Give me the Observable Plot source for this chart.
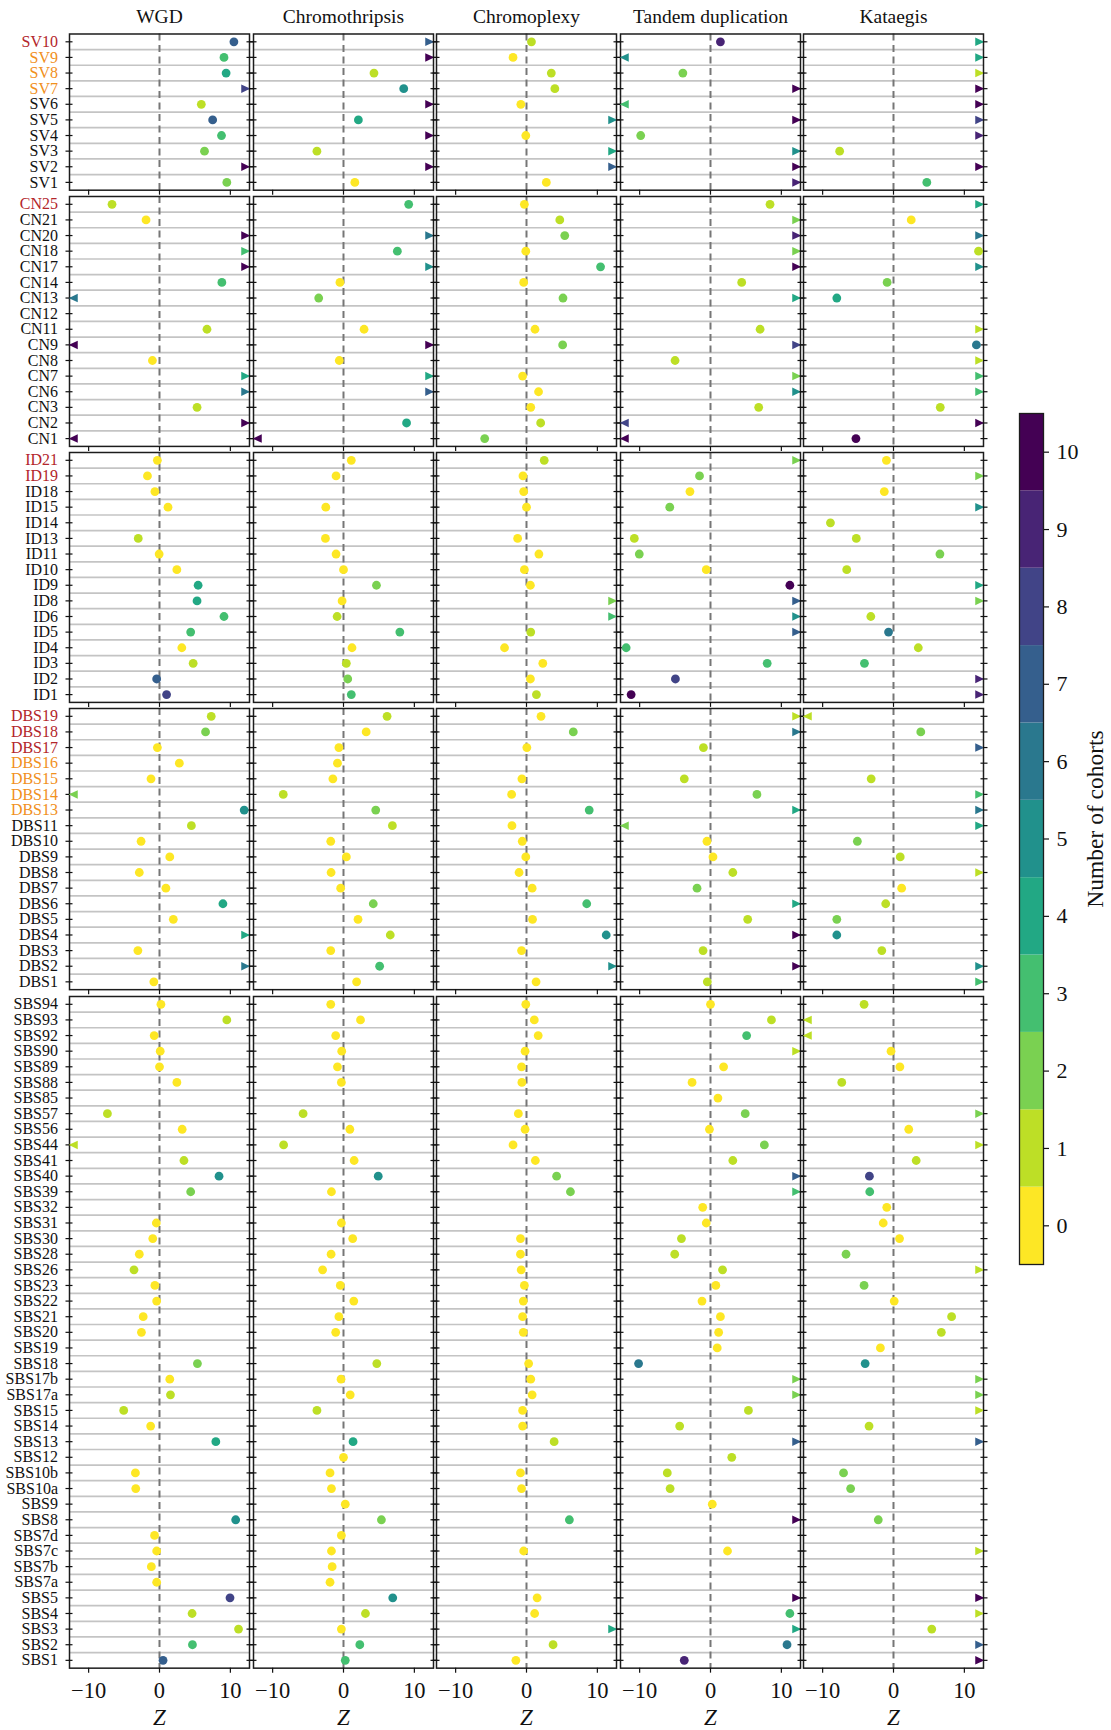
<!DOCTYPE html>
<html>
<head>
<meta charset="utf-8">
<script src="https://cdn.jsdelivr.net/npm/d3@7"></script>
<script src="https://cdn.jsdelivr.net/npm/@observablehq/plot@0.6"></script>
<style>
  html, body { margin: 0; padding: 0; background: #fff; }
  #chart { position: relative; width: 1111px; height: 1730px; background: #fff; overflow: hidden; }
  #chart > svg { position: absolute; }
</style>
</head>
<body>
<div id="chart"></div>
<script>
// ---- categories ----
const columns = ["WGD", "Chromothripsis", "Chromoplexy", "Tandem duplication", "Kataegis"];
const cohortLevels = [0, 1, 2, 3, 4, 5, 6, 7, 8, 9, 10];

// signatures highlighted in the row labels
const redSignatures = ["SV10", "CN25", "ID21", "ID19", "DBS19", "DBS18", "DBS17"];
const orangeSignatures = ["SV9", "SV8", "SV7", "DBS16", "DBS15", "DBS14", "DBS13"];

// ---- structural variant signatures ----
// Z values (one array per column); |Z| > 12.7 lies beyond the axis and is drawn as an edge arrow
const svSignatures = ["SV10", "SV9", "SV8", "SV7", "SV6", "SV5", "SV4", "SV3", "SV2", "SV1"];
const svZ = [
  [10.5, 9.1, 9.4, 13, 5.9, 7.5, 8.75, 6.35, 13, 9.5],
  [13, 13, 4.3, 8.5, 13, 2.1, 13, -3.75, 13, 1.6],
  [0.7, -1.9, 3.5, 4.0, -0.8, 13, -0.1, 13, 13, 2.8],
  [1.4, -13, -3.9, 13, -13, 13, -9.85, 13, 13, 13],
  [13, 13, 13, 13, 13, 13, 13, -7.6, 13, 4.7]
];
const svCohorts = [
  [7, 3, 4, 8, 1, 7, 3, 2, 10, 2],
  [7, 10, 1, 5, 10, 4, 10, 1, 10, 0],
  [1, 0, 1, 1, 0, 5, 0, 4, 7, 0],
  [9, 5, 2, 10, 3, 10, 2, 5, 10, 9],
  [4, 4, 1, 10, 10, 8, 9, 1, 10, 3]
];

// ---- copy number signatures ----
const cnSignatures = ["CN25", "CN21", "CN20", "CN18", "CN17", "CN14", "CN13", "CN12", "CN11", "CN9", "CN8", "CN7", "CN6", "CN3", "CN2", "CN1"];
const cnZ = [
  [-6.7, -1.9, 13, 13, 13, 8.8, -13, null, 6.7, -13, -1.0, 13, 13, 5.3, 13, -13],
  [9.2, null, 13, 7.6, 13, -0.5, -3.5, null, 2.9, 13, -0.6, 13, 13, null, 8.9, -13],
  [-0.3, 4.7, 5.4, -0.1, 10.45, -0.4, 5.15, null, 1.2, 5.1, null, -0.55, 1.7, 0.6, 2.0, -5.9],
  [8.4, 13, 13, 13, 13, 4.4, 13, null, 7.0, 13, -5.0, 13, 13, 6.8, -13, -13],
  [13, 2.5, 13, 12.0, 13, -0.9, -8.0, null, 13, 11.7, 13, 13, 13, 6.6, 13, -5.3]
];
const cnCohorts = [
  [1, 0, 10, 3, 10, 3, 6, null, 1, 10, 0, 4, 6, 1, 10, 10],
  [3, null, 6, 3, 5, 0, 2, null, 0, 10, 0, 4, 7, null, 4, 10],
  [0, 1, 2, 0, 3, 0, 2, null, 0, 2, null, 0, 0, 0, 1, 2],
  [1, 2, 9, 2, 10, 1, 4, null, 1, 8, 1, 2, 5, 1, 8, 10],
  [4, 0, 6, 1, 5, 2, 4, null, 1, 6, 1, 3, 3, 1, 10, 10]
];

// ---- indel signatures ----
const idSignatures = ["ID21", "ID19", "ID18", "ID15", "ID14", "ID13", "ID11", "ID10", "ID9", "ID8", "ID6", "ID5", "ID4", "ID3", "ID2", "ID1"];
const idZ = [
  [-0.3, -1.7, -0.65, 1.2, null, -3.0, -0.05, 2.45, 5.45, 5.3, 9.1, 4.4, 3.15, 4.75, -0.4, 1.0],
  [1.1, -1.05, null, -2.5, null, -2.55, -1.05, 0, 4.65, -0.2, -0.9, 7.95, 1.2, 0.4, 0.6, 1.1],
  [2.5, -0.5, -0.4, 0, null, -1.25, 1.75, -0.3, 0.55, 13, 13, 0.6, -3.1, 2.3, 0.55, 1.4],
  [13, -1.55, -2.9, -5.75, null, -10.75, -10.05, -0.6, 11.2, 13, 13, 13, -11.9, 8.0, -4.95, -11.2],
  [-1.0, 13, -1.3, 13, -8.9, -5.25, 6.55, -6.6, 13, 13, -3.2, -0.7, 3.5, -4.1, 13, 13]
];
const idCohorts = [
  [0, 0, 0, 0, null, 1, 0, 0, 4, 4, 3, 3, 0, 1, 7, 8],
  [0, 0, null, 0, null, 0, 0, 0, 2, 0, 1, 3, 0, 1, 2, 3],
  [1, 0, 0, 0, null, 0, 0, 0, 0, 2, 3, 1, 0, 0, 0, 1],
  [2, 2, 0, 2, null, 1, 2, 0, 10, 7, 5, 7, 3, 3, 8, 10],
  [0, 2, 0, 5, 1, 1, 2, 1, 4, 2, 1, 6, 1, 3, 9, 9]
];

// ---- doublet base substitution signatures ----
const dbsSignatures = ["DBS19", "DBS18", "DBS17", "DBS16", "DBS15", "DBS14", "DBS13", "DBS11", "DBS10", "DBS9", "DBS8", "DBS7", "DBS6", "DBS5", "DBS4", "DBS3", "DBS2", "DBS1"];
const dbsZ = [
  [7.3, 6.5, -0.3, 2.8, -1.2, -13, 11.95, 4.5, -2.6, 1.45, -2.85, 0.9, 8.95, 1.95, 13, -3.05, 13, -0.8],
  [6.15, 3.2, -0.65, -0.85, -1.5, -8.5, 4.55, 6.9, -1.8, 0.4, -1.75, -0.4, 4.2, 2.05, 6.6, -1.8, 5.1, 1.85],
  [2.05, 6.6, 0.05, null, -0.65, -2.1, 8.85, -2.05, -0.6, -0.1, -1.05, 0.8, 8.5, 0.85, 11.25, -0.7, 13, 1.35],
  [13, 13, -1.0, null, -3.7, 6.55, 13, -13, -0.5, 0.35, 3.15, -1.9, 13, 5.25, 13, -1.05, 13, -0.45],
  [-13, 3.85, 13, null, -3.15, 13, 13, 13, -5.1, 0.95, 13, 1.15, -1.1, -8.0, -8.0, -1.65, 13, 13]
];
const dbsCohorts = [
  [1, 2, 0, 0, 0, 2, 5, 1, 0, 0, 0, 0, 4, 0, 4, 0, 6, 0],
  [1, 0, 0, 0, 0, 1, 2, 1, 0, 0, 0, 0, 2, 0, 1, 0, 3, 0],
  [0, 2, 0, null, 0, 0, 3, 0, 0, 0, 0, 0, 3, 0, 5, 0, 5, 0],
  [1, 6, 1, null, 1, 2, 4, 2, 0, 0, 1, 2, 4, 1, 10, 1, 10, 1],
  [1, 2, 7, null, 1, 3, 6, 4, 2, 1, 1, 0, 1, 2, 5, 1, 5, 3]
];

// ---- single base substitution signatures ----
const sbsSignatures = ["SBS94", "SBS93", "SBS92", "SBS90", "SBS89", "SBS88", "SBS85", "SBS57", "SBS56", "SBS44", "SBS41", "SBS40", "SBS39", "SBS32", "SBS31", "SBS30", "SBS28", "SBS26", "SBS23", "SBS22", "SBS21", "SBS20", "SBS19", "SBS18", "SBS17b", "SBS17a", "SBS15", "SBS14", "SBS13", "SBS12", "SBS10b", "SBS10a", "SBS9", "SBS8", "SBS7d", "SBS7c", "SBS7b", "SBS7a", "SBS5", "SBS4", "SBS3", "SBS2", "SBS1"];
const sbsZ = [
  [0.2, 9.5, -0.75, 0.1, 0, 2.45, null, -7.35, 3.2, -13, 3.45, 8.4, 4.4, null, -0.45, -0.95, -2.85, -3.6, -0.65, -0.4, -2.3, -2.55, null, 5.35, 1.45, 1.55, -5.05, -1.25, 7.95, null, -3.4, -3.35, null, 10.75, -0.7, -0.4, -1.15, -0.4, 9.95, 4.6, 11.15, 4.65, 0.5],
  [-1.8, 2.4, -1.1, -0.25, -0.85, -0.3, null, -5.7, 0.9, -8.45, 1.5, 4.9, -1.7, null, -0.3, 1.3, -1.75, -2.95, -0.45, 1.45, -0.65, -1.1, null, 4.7, -0.35, 0.95, -3.75, null, 1.35, 0, -1.9, -1.7, 0.25, 5.35, -0.3, -1.7, -1.6, -1.9, 6.95, 3.1, -0.3, 2.3, 0.25],
  [-0.1, 1.1, 1.65, -0.2, -0.7, -0.65, null, -1.15, -0.2, -1.9, 1.25, 4.25, 6.2, null, null, -0.85, -0.85, -0.75, -0.3, -0.45, -0.55, -0.45, null, 0.3, 0.6, 0.8, -0.55, -0.55, 3.9, null, -0.85, -0.7, null, 6.05, null, -0.4, null, null, 1.5, 1.15, 13, 3.75, -1.5],
  [0, 8.6, 5.1, 13, 1.85, -2.6, 1.05, 4.9, -0.15, 7.6, 3.15, 13, 13, -1.1, -0.6, -4.1, -5.05, 1.7, 0.75, -1.2, 1.4, 1.15, 0.95, -10.15, 13, 13, 5.35, -4.35, 13, 3.0, -6.1, -5.7, 0.25, 13, null, 2.4, null, null, 13, 11.2, 13, 10.8, -3.7],
  [-4.15, -13, -13, -0.35, 0.9, -7.3, null, 13, 2.15, 13, 3.2, -3.4, -3.35, -0.95, -1.45, 0.85, -6.7, 13, -4.15, 0.1, 8.2, 6.75, -1.85, -4.0, 13, 13, 13, -3.45, 13, null, -7.05, -6.05, null, -2.15, null, 13, null, null, 13, 13, 5.4, 13, 13]
];
const sbsCohorts = [
  [0, 1, 0, 0, 0, 0, null, 1, 0, 1, 1, 5, 2, null, 0, 0, 0, 1, 0, 0, 0, 0, null, 2, 0, 1, 1, 0, 4, null, 0, 0, null, 5, 0, 0, 0, 0, 8, 1, 1, 3, 7],
  [0, 0, 0, 0, 0, 0, null, 1, 0, 1, 0, 5, 0, null, 0, 0, 0, 0, 0, 0, 0, 0, null, 1, 0, 0, 1, null, 4, 0, 0, 0, 0, 2, 0, 0, 0, 0, 5, 1, 0, 3, 3],
  [0, 0, 0, 0, 0, 0, null, 0, 0, 0, 0, 2, 2, null, null, 0, 0, 0, 0, 0, 0, 0, null, 0, 0, 0, 0, 0, 1, null, 0, 0, null, 3, null, 0, null, null, 0, 0, 4, 1, 0],
  [0, 1, 3, 1, 0, 0, 0, 2, 0, 2, 1, 7, 3, 0, 0, 1, 1, 1, 0, 0, 0, 0, 0, 6, 2, 2, 1, 1, 7, 1, 1, 1, 0, 10, null, 0, null, null, 10, 3, 4, 6, 9],
  [1, 1, 1, 0, 0, 1, null, 2, 0, 1, 1, 8, 3, 0, 0, 0, 2, 1, 2, 0, 1, 1, 0, 5, 2, 2, 1, 1, 7, null, 2, 2, null, 2, null, 1, null, null, 10, 1, 1, 7, 10]
];

// ---- layout ----
const groups = [
  {rows: svSignatures, z: svZ, n: svCohorts},
  {rows: cnSignatures, z: cnZ, n: cnCohorts},
  {rows: idSignatures, z: idZ, n: idCohorts},
  {rows: dbsSignatures, z: dbsZ, n: dbsCohorts},
  {rows: sbsSignatures, z: sbsZ, n: sbsCohorts}
];
const zLimit = 12.7;      // axis extent
const zEdge = 12.1;       // where out-of-range values are pinned
const rowStep = 15.62;
const groupGap = 6.3;
const firstTop = 33.5;
const firstLeft = 69;
const panelWidth = 180;
const columnStep = 183.5;
const fontFamily = "'Liberation Serif', 'Times New Roman', serif";
const ink = "#111";

const colorScale = {
  type: "ordinal",
  domain: cohortLevels,
  range: cohortLevels.map(k => d3.interpolateViridis(1 - k / 10))
};

// arrow-head markers for values beyond the axis range
const triangleRight = {
  draw(ctx, size) {
    const r = Math.sqrt(size / Math.PI);
    ctx.moveTo(r, 0);
    ctx.lineTo(-r * 0.8, -r * 0.85);
    ctx.lineTo(-r * 0.8, r * 0.85);
    ctx.closePath();
  }
};
const triangleLeft = {
  draw(ctx, size) {
    const r = Math.sqrt(size / Math.PI);
    ctx.moveTo(-r, 0);
    ctx.lineTo(r * 0.8, -r * 0.85);
    ctx.lineTo(r * 0.8, r * 0.85);
    ctx.closePath();
  }
};

const formatTick = d => (d < 0 ? "\u2212" + Math.abs(d) : String(d));
const chart = document.getElementById("chart");

function drawPanel(group, g, c, panelTop) {
  const {rows, z, n} = group;
  const firstRow = g === 0;
  const lastRow = g === groups.length - 1;
  const firstCol = c === 0;
  const mL = firstCol ? firstLeft : 10;
  const mR = 10;
  const mT = firstRow ? firstTop : 2;
  const mB = lastRow ? 64 : 8;
  const h = rows.length * rowStep;

  const points = rows
    .map((s, i) => ({s, z: z[c][i], n: n[c][i]}))
    .filter(d => d.z != null);
  const inside = points.filter(d => Math.abs(d.z) <= zLimit);
  const above = points.filter(d => d.z > zLimit);
  const below = points.filter(d => d.z < -zLimit);

  const marks = [
    // separators between signature rows
    Plot.ruleY(rows.slice(0, -1), {y: d => d, dy: rowStep / 2, stroke: "#c4c4c4", strokeWidth: 1.7}),
    // zero reference
    Plot.ruleX([0], {stroke: "#767676", strokeWidth: 2, strokeDasharray: "7,4.5"}),
    Plot.frame({stroke: "#1c1c1c", strokeWidth: 1.5}),
    Plot.axisY({anchor: "left", tickSize: 7, dx: 3.5, fill: "none", label: null, strokeWidth: 1.2}),
    Plot.axisY({anchor: "right", tickSize: 7, dx: -3.5, fill: "none", label: null, strokeWidth: 1.2}),
    Plot.axisX({
      anchor: "bottom", ticks: [-10, 0, 10], tickSize: 5, tickPadding: 9,
      tickFormat: formatTick, fill: lastRow ? ink : "none", fontSize: 22.5,
      label: null, strokeWidth: 1.2
    }),
    Plot.dot(inside, {x: "z", y: "s", fill: "n", r: 4.4}),
    Plot.dot(above, {x: () => zEdge, y: "s", fill: "n", r: 5, symbol: triangleRight, clip: true}),
    Plot.dot(below, {x: () => -zEdge, y: "s", fill: "n", r: 5, symbol: triangleLeft, clip: true})
  ];

  if (firstCol) {
    const labelOpts = {y: d => d, text: d => d, frameAnchor: "left", dx: -11.5, textAnchor: "end", fontSize: 16};
    marks.push(
      Plot.text(rows.filter(s => !redSignatures.includes(s) && !orangeSignatures.includes(s)), {...labelOpts, fill: ink}),
      Plot.text(rows.filter(s => redSignatures.includes(s)), {...labelOpts, fill: "#b3262b"}),
      Plot.text(rows.filter(s => orangeSignatures.includes(s)), {...labelOpts, fill: "#f1901c"})
    );
  }
  if (firstRow) {
    marks.push(Plot.text([columns[c]], {text: d => d, frameAnchor: "top", dy: -17, lineAnchor: "middle", textAnchor: "middle", fontSize: 19.5, fill: ink}));
  }
  if (lastRow) {
    marks.push(Plot.text(["Z"], {text: d => d, frameAnchor: "bottom", dy: 49.5, lineAnchor: "middle", textAnchor: "middle", fontSize: 23, fontStyle: "italic", fill: ink}));
  }

  const svg = Plot.plot({
    width: panelWidth + mL + mR,
    height: h + mT + mB,
    marginLeft: mL, marginRight: mR, marginTop: mT, marginBottom: mB,
    style: {background: "none", overflow: "visible", fontFamily, color: ink},
    x: {domain: [-zLimit, zLimit]},
    y: {type: "point", domain: rows, padding: 0.5, round: false},
    color: colorScale,
    marks
  });
  svg.style.left = `${firstLeft + c * columnStep - mL}px`;
  svg.style.top = `${panelTop - mT}px`;
  chart.appendChild(svg);
}

let groupTop = firstTop;
groups.forEach((group, g) => {
  columns.forEach((_, c) => drawPanel(group, g, c, groupTop));
  groupTop += group.rows.length * rowStep + groupGap;
});

// ---- discrete colour bar ----
const barLeft = 1019, barTop = 413, barWidth = 24, barHeight = 851;
const colorbar = Plot.plot({
  width: barWidth + 2 + 70,
  height: barHeight + 20,
  marginLeft: 2, marginRight: 70, marginTop: 10, marginBottom: 10,
  style: {background: "none", overflow: "visible", fontFamily, color: ink},
  y: {type: "band", domain: cohortLevels, reverse: true, padding: 0, round: false},
  color: colorScale,
  marks: [
    Plot.cell(cohortLevels, {y: d => d, fill: d => d}),
    Plot.frame({stroke: "#1c1c1c", strokeWidth: 1.3}),
    Plot.axisY({anchor: "right", tickSize: 5, tickPadding: 8, fontSize: 22, label: null, strokeWidth: 1.2}),
    Plot.text(["Number of cohorts"], {text: d => d, frameAnchor: "right", dx: 52, dy: -20, rotate: -90, lineAnchor: "middle", textAnchor: "middle", fontSize: 23.5, fill: ink})
  ]
});
colorbar.style.left = `${barLeft - 2}px`;
colorbar.style.top = `${barTop - 10}px`;
chart.appendChild(colorbar);
</script>
</body>
</html>
